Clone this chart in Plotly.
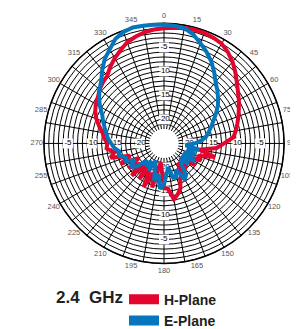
import plotly.graph_objects as go

# ---- data (dB, compass angles, clockwise from top) ----
angles = list(range(0, 360, 5))

h_plane = [-1.0, -0.8, -0.6, -0.5, -0.5, -0.7, -1.0, -1.8, -2.8, -4.0,
           -5.2, -6.2, -7.0, -7.8, -8.5, -9.2, -9.8, -10.5, -12.5, -14.0,
           -17.5, -14.0, -17.5, -16.5, -19.5, -17.0, -20.5, -18.5, -18.2, -20.0,
           -17.5, -17.0, -15.0, -14.0, -13.2, -15.5, -15.7, -19.5, -21.0, -15.5,
           -18.5, -15.0, -19.5, -16.0, -20.0, -15.5, -18.5, -16.0, -19.0, -15.0,
           -17.5, -13.5, -14.5, -13.0, -13.2, -12.5, -12.0, -11.0, -10.0, -9.2,
           -8.6, -8.2, -7.5, -7.0, -6.6, -5.5, -4.5, -3.6, -2.6, -2.0,
           -1.5, -1.2]

e_plane = [-0.3, -0.4, -0.6, -1.5, -2.8, -4.0, -5.3, -6.8, -8.3, -9.3,
           -10.3, -11.3, -12.5, -13.6, -14.5, -15.3, -16.0, -17.0, -18.5, -20.5,
           -17.5, -20.0, -18.0, -20.5, -17.5, -20.5, -18.5, -20.0, -19.4, -17.0,
           -16.3, -19.0, -17.5, -17.6, -20.0, -18.6, -16.5, -15.5, -18.5, -17.0,
           -19.5, -21.0, -18.5, -20.5, -19.0, -20.0, -17.5, -16.5, -18.0, -16.3,
           -16.5, -15.3, -15.5, -14.6, -14.0, -13.3, -12.8, -12.2, -11.5, -10.8,
           -9.6, -8.5, -7.5, -6.5, -5.0, -3.5, -2.4, -1.0, -0.3, 0.0,
           -0.1, -0.2]

angle_label_vals = list(range(0, 360, 15))
angle_labels = [str(a) for a in angle_label_vals]
spoke_vals = list(range(0, 360, 10))
ring_vals = list(range(-22, 1))

radial_label_vals = [-5, -10, -15, -20]
radial_label_angles = [0, 90, 180, 270]

R_MIN, R_OUT = -22, 0
R_MAX = 2.6        # extra room for the angle labels
LABEL_R = 1.5      # where the angle labels sit (dB beyond outer ring)

RED = "#E3052D"
BLUE = "#0576BE"

fig = go.Figure()

# spokes from the inner ring to the outer ring
sp_r, sp_t = [], []
for a in spoke_vals:
    sp_r += [R_MIN, R_OUT, None]
    sp_t += [a, a, None]
fig.add_trace(go.Scatterpolar(r=sp_r, theta=sp_t, mode="lines",
                              line=dict(color="black", width=1),
                              showlegend=False, hoverinfo="skip", cliponaxis=False))

# outer ring drawn slightly heavier
fig.add_trace(go.Scatterpolar(r=[R_OUT] * 73, theta=list(range(0, 365, 5)), mode="lines",
                              line=dict(color="black", width=1.5),
                              showlegend=False, hoverinfo="skip", cliponaxis=False))

# radial tick labels, on the four main spokes
lab_r, lab_t, lab_txt = [], [], []
for ang in radial_label_angles:
    for v in radial_label_vals:
        lab_r.append(v)
        lab_t.append(ang)
        lab_txt.append(str(v))
fig.add_trace(go.Scatterpolar(
    r=lab_r, theta=lab_t, text=lab_txt, mode="markers+text",
    marker=dict(symbol="square", size=10, color="white"),
    textposition="middle center",
    textfont=dict(family="Liberation Sans, Arial, sans-serif", size=8, color="black"),
    showlegend=False, hoverinfo="skip"))

# angular labels outside the outer ring
fig.add_trace(go.Scatterpolar(
    r=[LABEL_R] * len(angle_label_vals), theta=angle_label_vals, text=angle_labels,
    mode="text", textposition="middle center", cliponaxis=False,
    textfont=dict(family="Liberation Sans, Arial, sans-serif", size=7.5, color="#555555"),
    showlegend=False, hoverinfo="skip"))

# data curves (closed)
fig.add_trace(go.Scatterpolar(
    r=h_plane + h_plane[:1], theta=angles + angles[:1], mode="lines",
    line=dict(color=RED, width=4), showlegend=False))
fig.add_trace(go.Scatterpolar(
    r=e_plane + e_plane[:1], theta=angles + angles[:1], mode="lines",
    line=dict(color=BLUE, width=4), showlegend=False))

# legend entries
fig.add_trace(go.Scatterpolar(r=[None], theta=[None], mode="lines", name="H-Plane",
                              line=dict(color=RED, width=10)))
fig.add_trace(go.Scatterpolar(r=[None], theta=[None], mode="lines", name="E-Plane",
                              line=dict(color=BLUE, width=10)))

W, H = 298, 329
cx, cy = 156, 141
R_TOTAL = 138   # pixel radius of the full (extended) polar area
HOLE_PX = 15
dom_x = [(cx - R_TOTAL) / W, (cx + R_TOTAL) / W]
dom_y = [(H - cy - R_TOTAL) / H, (H - cy + R_TOTAL) / H]

fig.update_layout(
    width=W, height=H,
    margin=dict(l=0, r=0, t=0, b=0),
    paper_bgcolor="white",
    showlegend=True,
    polar=dict(
        domain=dict(x=dom_x, y=dom_y),
        bgcolor="rgba(0,0,0,0)",
        hole=HOLE_PX / R_TOTAL,
        radialaxis=dict(range=[R_MIN, R_MAX], tickmode="array", tickvals=ring_vals,
                        showticklabels=False, ticks="", showline=False,
                        gridcolor="black", gridwidth=1),
        angularaxis=dict(rotation=90, direction="clockwise", showgrid=False,
                         showticklabels=False, ticks="", showline=False),
    ),
    legend=dict(x=116 / W, y=(H - 287) / H, xanchor="left", yanchor="top",
                bgcolor="rgba(0,0,0,0)", tracegroupgap=0, itemwidth=30,
                font=dict(family="Liberation Sans, Arial, sans-serif",
                          size=14, color="#231F20", weight="bold")),
    annotations=[dict(text="<b>2.4  GHz</b>", x=81 / W, y=(H - 301) / H,
                      xref="paper", yref="paper", showarrow=False,
                      xanchor="center", yanchor="middle",
                      font=dict(family="Liberation Sans, Arial, sans-serif",
                                size=17, color="#231F20"))],
)

fig.write_html("out.html")
